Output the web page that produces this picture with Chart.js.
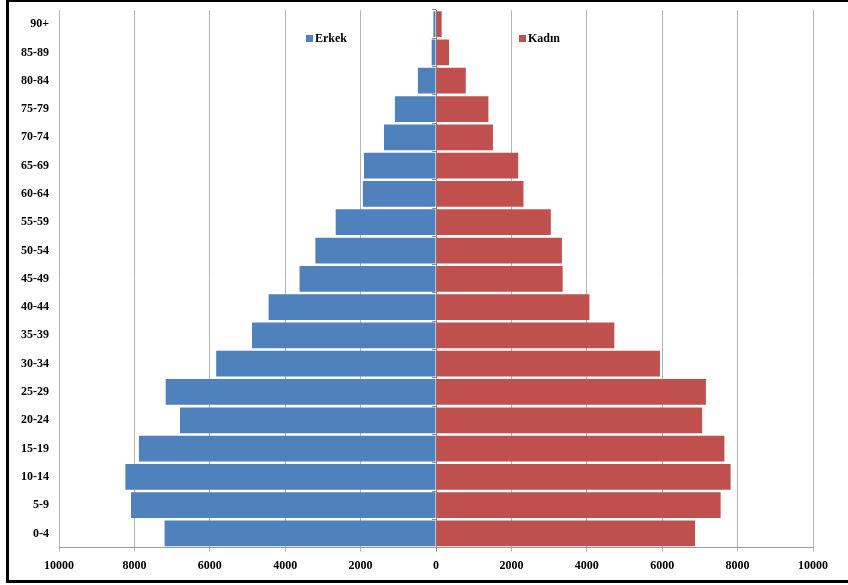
<!DOCTYPE html>
<html>
<head>
<meta charset="utf-8">
<script src="https://cdn.jsdelivr.net/npm/chart.js@4/dist/chart.umd.min.js"></script>
<style>
  html, body { margin: 0; padding: 0; background: #fff; overflow: hidden; }
  #wrap { position: relative; width: 848px; height: 585px; }
  #frame {
    position: absolute; left: 6px; top: -1px; width: 900px; height: 578px;
    border-left: 3px solid #000; border-top: 3px solid #000; border-bottom: 3px solid #000;
    pointer-events: none;
  }
</style>
</head>
<body>
<div id="wrap">
  <canvas id="piramit" width="848" height="585"></canvas>
  <div id="frame"></div>
</div>
<script>
const yasGruplari = ['0-4', '5-9', '10-14', '15-19', '20-24', '25-29', '30-34', '35-39', '40-44', '45-49',
                     '50-54', '55-59', '60-64', '65-69', '70-74', '75-79', '80-84', '85-89', '90+'];
const erkek = [7200, 8090, 8240, 7880, 6790, 7170, 5830, 4880, 4440, 3620,
               3200, 2660, 1940, 1910, 1380, 1090, 480, 115, 70];
const kadin = [6870, 7550, 7815, 7650, 7060, 7160, 5940, 4730, 4070, 3360,
               3340, 3045, 2320, 2180, 1510, 1390, 790, 345, 150];
const xTicks = [-10000, -8000, -6000, -4000, -2000, 0, 2000, 4000, 6000, 8000, 10000];

const yazi = { family: '"Liberation Serif", "Times New Roman", serif', size: 12, weight: 'bold' };

// legend items sit inside the plot, apart from each other
const efsane = {
  id: 'efsane',
  afterDraw(chart) {
    const ctx = chart.ctx;
    const items = [
      { label: chart.data.datasets[0].label, color: chart.data.datasets[0].backgroundColor, x: 306 },
      { label: chart.data.datasets[1].label, color: chart.data.datasets[1].backgroundColor, x: 519 }
    ];
    ctx.save();
    ctx.font = 'bold 12px "Liberation Serif", "Times New Roman", serif';
    ctx.textBaseline = 'middle';
    ctx.textAlign = 'left';
    items.forEach(it => {
      ctx.fillStyle = it.color;
      ctx.fillRect(it.x, 35, 7, 7);
      ctx.fillStyle = '#000';
      ctx.fillText(it.label, it.x + 9, 38.5);
    });
    ctx.restore();
  }
};

const ctx = document.getElementById('piramit').getContext('2d');

new Chart(ctx, {
  type: 'bar',
  data: {
    labels: yasGruplari,
    datasets: [{
      label: 'Erkek',
      data: erkek.map(v => -v),
      backgroundColor: '#4F81BD',
      barPercentage: 0.91,
      categoryPercentage: 1
    }, {
      label: 'Kadın',
      data: kadin,
      backgroundColor: '#C0504D',
      barPercentage: 0.91,
      categoryPercentage: 1
    }]
  },
  options: {
    indexAxis: 'y',
    responsive: false,
    animation: false,
    layout: { padding: { left: 0, top: 10, right: 35, bottom: 5 } },
    plugins: {
      legend: { display: false },
      tooltip: { enabled: false }
    },
    scales: {
      x: {
        stacked: true,
        min: -10000,
        max: 10000,
        afterBuildTicks: s => { s.ticks = xTicks.map(v => ({ value: v })); },
        ticks: {
          color: '#000',
          font: yazi,
          padding: 7,
          maxRotation: 0,
          callback: v => Math.abs(v)
        },
        grid: {
          color: c => c.tick && c.tick.value === 0 ? '#8a8a8a' : '#b4b4b4',
          lineWidth: 1,
          tickLength: 4
        },
        border: { color: '#9a9a9a' }
      },
      y: {
        stacked: true,
        reverse: true,
        afterFit: s => { s.width = 59; s.paddingTop = 0; s.paddingBottom = 0; },
        ticks: { color: '#000', font: yazi, padding: 10 },
        grid: { display: false, drawTicks: false },
        border: { display: false }
      },
      sifir: {
        type: 'category',
        axis: 'y',
        position: { x: 0 },
        reverse: true,
        offset: true,
        ticks: { display: false },
        grid: { drawOnChartArea: false, tickLength: 4, color: '#8a8a8a' },
        border: { color: '#8a8a8a' }
      }
    }
  },
  plugins: [efsane]
});
</script>
</body>
</html>
